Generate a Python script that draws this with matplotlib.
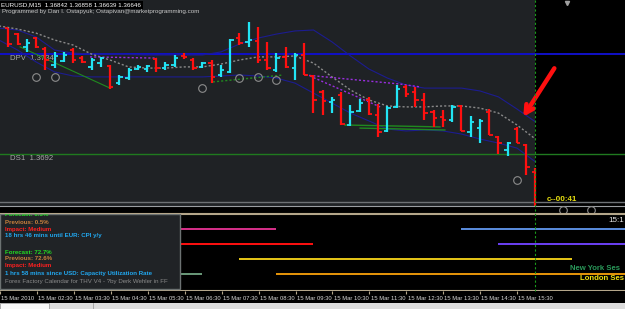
import matplotlib
matplotlib.use('Agg')
import matplotlib.pyplot as plt
import matplotlib.transforms as mtransforms
from matplotlib.patches import Rectangle
from matplotlib.lines import Line2D
import numpy as np

plt.rcParams['font.family'] = ['Liberation Sans', 'DejaVu Sans']

# EURUSD M15, 15 Mar 2010 -- bar open times in hours
bar_time = np.arange(1.75, 16.01, 0.25)
opens = [1.37447, 1.37422, 1.37368, 1.37405, 1.37359, 1.37292, 1.37309, 1.37355, 1.37321, 1.37284,
         1.37300, 1.37288, 1.37216, 1.37237, 1.37275, 1.37275, 1.37317, 1.37279, 1.37292, 1.37330,
         1.37313, 1.37284, 1.37300, 1.37250, 1.37263, 1.37405, 1.37389, 1.37393, 1.37313, 1.37271,
         1.37326, 1.37279, 1.37334, 1.37246, 1.37179, 1.37137, 1.37166, 1.37040, 1.37099, 1.37145,
         1.37082, 1.37015, 1.37116, 1.37200, 1.37179, 1.37145, 1.37095, 1.37074, 1.37061, 1.37120,
         1.37011, 1.37027, 1.37095, 1.36990, 1.36935, 1.37023, 1.36956, 1.36842]
highs = [1.37447, 1.37426, 1.37401, 1.37410, 1.37368, 1.37347, 1.37347, 1.37363, 1.37330, 1.37321,
         1.37326, 1.37292, 1.37250, 1.37279, 1.37292, 1.37292, 1.37321, 1.37305, 1.37334, 1.37342,
         1.37321, 1.37305, 1.37313, 1.37292, 1.37401, 1.37426, 1.37473, 1.37452, 1.37389, 1.37342,
         1.37368, 1.37342, 1.37384, 1.37250, 1.37187, 1.37158, 1.37179, 1.37124, 1.37149, 1.37158,
         1.37128, 1.37120, 1.37208, 1.37208, 1.37200, 1.37174, 1.37103, 1.37103, 1.37124, 1.37124,
         1.37078, 1.37065, 1.37107, 1.36994, 1.36969, 1.37032, 1.36960, 1.36858]
lows = [1.37368, 1.37376, 1.37347, 1.37363, 1.37271, 1.37279, 1.37305, 1.37300, 1.37300, 1.37271,
        1.37284, 1.37191, 1.37208, 1.37229, 1.37271, 1.37263, 1.37263, 1.37271, 1.37284, 1.37317,
        1.37271, 1.37279, 1.37216, 1.37242, 1.37258, 1.37376, 1.37368, 1.37300, 1.37271, 1.37263,
        1.37279, 1.37229, 1.37250, 1.37090, 1.37082, 1.37090, 1.37040, 1.37036, 1.37095, 1.37082,
        1.36990, 1.37011, 1.37111, 1.37158, 1.37116, 1.37061, 1.37032, 1.37032, 1.37053, 1.37015,
        1.36990, 1.36964, 1.36998, 1.36918, 1.36910, 1.36964, 1.36830, 1.36639]
closes = [1.37380, 1.37380, 1.37384, 1.37368, 1.37313, 1.37330, 1.37334, 1.37313, 1.37305, 1.37313,
          1.37321, 1.37200, 1.37242, 1.37271, 1.37284, 1.37288, 1.37279, 1.37292, 1.37321, 1.37326,
          1.37279, 1.37300, 1.37242, 1.37271, 1.37397, 1.37384, 1.37397, 1.37313, 1.37279, 1.37321,
          1.37284, 1.37334, 1.37250, 1.37145, 1.37141, 1.37145, 1.37044, 1.37095, 1.37132, 1.37086,
          1.37011, 1.37111, 1.37191, 1.37170, 1.37145, 1.37090, 1.37069, 1.37061, 1.37116, 1.37015,
          1.37053, 1.37057, 1.36998, 1.36964, 1.36964, 1.36964, 1.36864, 1.36646]

# envelope / moving averages sampled every half hour
ma_time = np.arange(1.5, 16.01, 0.5)
ma_upper = [1.37447, 1.37439, 1.37410, 1.37355, 1.37342, 1.37338, 1.37338, 1.37336, 1.37334, 1.37334,
            1.37334, 1.37334, 1.37347, 1.37380, 1.37405, 1.37422, 1.37435, 1.37439, 1.37389, 1.37330,
            1.37275, 1.37237, 1.37208, 1.37195, 1.37195, 1.37195, 1.37183, 1.37158, 1.37107, 1.37053]
ma_lower = [1.37397, 1.37355, 1.37305, 1.37263, 1.37246, 1.37242, 1.37242, 1.37242, 1.37242, 1.37242,
            1.37242, 1.37242, 1.37246, 1.37250, 1.37246, 1.37237, 1.37216, 1.37174, 1.37132, 1.37090,
            1.37057, 1.37023, 1.37015, 1.37019, 1.37015, 1.37002, 1.36981, 1.36964, 1.36943, 1.36885]
ma_mid = [1.37456, 1.37443, 1.37426, 1.37397, 1.37376, 1.37338, 1.37313, 1.37284, 1.37279, 1.37279,
          1.37284, 1.37284, 1.37296, 1.37313, 1.37326, 1.37326, 1.37330, 1.37300, 1.37242, 1.37187,
          1.37145, 1.37120, 1.37116, 1.37116, 1.37120, 1.37120, 1.37111, 1.37090, 1.37040, 1.36981]

# trend lines (time, price pairs)
purple_a = ([3.96, 5.77], [1.37326, 1.37321])
purple_b = ([9.77, 12.34, 12.88], [1.37250, 1.37212, 1.37200])
purple_c = ([9.9, 11.8], [1.37246, 1.37116])
green_a = ([2.07, 4.5], [1.37368, 1.37195])
green_dot = ([7.28, 9.18], [1.37221, 1.37250])
green_b = ([10.85, 13.42], [1.37040, 1.37032])
green_c = ([11.26, 13.55], [1.37027, 1.37019])

# session markers
mark_time = [2.5, 3.0, 7.0, 8.0, 8.5, 9.0, 15.5, 16.75, 17.5]
mark_price = [1.37242, 1.37242, 1.37195, 1.37237, 1.37242, 1.37229, 1.36809, 1.36683, 1.36683]

dpv, ds1, ds2 = 1.3734, 1.3692, 1.36718
now_time = 16.0

# session bars in lower window
sess_row = [1, 2, 4, 3, 4, 1, 2]
sess_start = [0.0, 0.0, 0.0, 8.0, 9.0, 14.0, 15.0]
sess_end = [9.0, 10.0, 7.0, 17.0, 24.0, 24.0, 24.0]
sess_color = ['#d8308a', '#ff1010', '#6a9a7a', '#e8c818', '#e8960a', '#5b8de0', '#6b40f5']

tick_hours = [1.5, 2.5, 3.5, 4.5, 5.5, 6.5, 7.5, 8.5, 9.5, 10.5, 11.5, 12.5, 13.5, 14.5, 15.5]
tick_labels = ['15 Mar 2010', '15 Mar 02:30', '15 Mar 03:30', '15 Mar 04:30', '15 Mar 05:30',
               '15 Mar 06:30', '15 Mar 07:30', '15 Mar 08:30', '15 Mar 09:30', '15 Mar 10:30',
               '15 Mar 11:30', '15 Mar 12:30', '15 Mar 13:30', '15 Mar 14:30', '15 Mar 15:30']

info_lines = [('Forecast: 0.3%', '#22dd22'), ('Previous: 0.5%', '#c8803c'),
              ('Impact: Medium', '#ff2020'), ('18 hrs 46 mins until EUR: CPI y/y', '#20a8f0'),
              ('Forecast: 72.7%', '#22dd22'), ('Previous: 72.6%', '#c8803c'),
              ('Impact: Medium', '#ff2020'),
              ('1 hrs 58 mins since USD: Capacity Utilization Rate', '#20a8f0')]
info_y = [215, 222, 229, 236, 252, 259, 266, 273]

W, H = 625, 309
XLIM = (1.527, 18.419)
BG = '#1f2225'
TAN = '#b4a68a'


def fy(px):
    return 1 - px / H


fig = plt.figure(figsize=(W / 100, H / 100), dpi=100, facecolor='black')

# ---- price window
ax = fig.add_axes([0, fy(206), 1, 206 / H])
ax.set_facecolor('black')
ax.set_xlim(*XLIM)
ax.set_ylim(1.366998, 1.37565)
ax.axvspan(XLIM[0], now_time, color=BG, zorder=0, lw=0)
for s in ['top', 'left', 'right']:
    ax.spines[s].set_visible(False)
ax.spines['bottom'].set_color('#9a9ea2')
ax.set_xticks([])
ax.set_yticks([])

ax.axhline(dpv, color='#1010c8', lw=1.4, zorder=2)
ax.axhline(ds1, color='#1f7a1f', lw=1.0, zorder=2)
ax.axhline(ds2, color='#6e7276', lw=1.0, zorder=2)
blend = mtransforms.blended_transform_factory(ax.transAxes, ax.transData)
ax.text(0.016, dpv - 0.00008, 'DPV  1.3734', transform=blend, color='#a8a8a8',
        fontsize=5.6, va='top')
ax.text(0.016, ds1 - 0.00008, 'DS1  1.3692', transform=blend, color='#a8a8a8',
        fontsize=5.6, va='top')

ax.plot(ma_time, ma_upper, color='#1c1c90', lw=0.8, zorder=3)
ax.plot(ma_time, ma_lower, color='#1c1c90', lw=0.8, zorder=3)
ax.plot(ma_time, ma_mid, color='#8a8a8a', lw=1.0, ls=(0, (1.5, 1.5)), zorder=3)
for xs, ys in [purple_a, purple_b, purple_c]:
    ax.plot(xs, ys, color='#9a2ee0', lw=1.0, ls=(0, (1.5, 1.5)), zorder=3)
ax.plot(*green_a, color='#1f8a1f', lw=0.8, zorder=3)
ax.plot(*green_dot, color='#1f8a1f', lw=1.0, ls=(0, (1.5, 1.5)), zorder=3)
ax.plot(*green_b, color='#1f8a1f', lw=1.0, zorder=3)
ax.plot(*green_c, color='#1f8a1f', lw=1.0, zorder=3)

# OHLC bars
o = np.array(opens)
c = np.array(closes)
cols = np.where(c < o, '#ff1010', '#22e4f4')
tw = 0.09
ax.vlines(bar_time, lows, highs, colors=cols, lw=1.6, zorder=4)
ax.hlines(o, bar_time - tw, bar_time, colors=cols, lw=1.3, zorder=4)
ax.hlines(c, bar_time, bar_time + tw, colors=cols, lw=1.3, zorder=4)

ax.plot(mark_time, mark_price, 'o', ms=5.5, mfc='none', mec='#8c8c8c', mew=0.8,
        zorder=5, clip_on=False)
ax.plot([16.84], [1.37552], 'v', ms=3, color='#a0a0a0', zorder=5)

ax.annotate('', xy=(15.63, 1.37065), xytext=(16.55, 1.37288),
            arrowprops=dict(arrowstyle='->, head_length=0.55, head_width=0.3',
                            color='#ff1010', lw=3.2, capstyle='round'), zorder=6)
ax.text(16.3, 1.36726, 'c--00:41', color='#e8e010', fontsize=5.8,
        fontweight='bold', va='center', ha='left', zorder=6)

fig.text(1 / W, fy(4.8), 'EURUSD,M15  1.36842 1.36858 1.36639 1.36646', color='white',
         fontsize=4.5, va='center', ha='left',
         bbox=dict(facecolor='black', edgecolor='none', pad=1.2))
fig.text(2 / W, fy(11), 'Programmed by Dan I. Ostapyuk; Ostapivan@marketprogramming.com',
         color='#c8c8c8', fontsize=4.5, va='center', ha='left')

# ---- lower window (sessions)
axl = fig.add_axes([0, fy(291), 1, 77 / H])
axl.set_facecolor('black')
axl.set_xlim(*XLIM)
axl.set_ylim(77 / 15, 0)
axl.set_xticks([])
axl.set_yticks([])
for s in ['left', 'right']:
    axl.spines[s].set_visible(False)
for s in ['top', 'bottom']:
    axl.spines[s].set_color(TAN)
    axl.spines[s].set_linewidth(1.5)
axl.hlines(sess_row, sess_start, sess_end, colors=sess_color, lw=1.4, zorder=2)

axl.add_patch(Rectangle((0, 2 / 77), 180 / W, 75 / 77, transform=axl.transAxes,
                        facecolor='#202326', edgecolor='#6c7272', lw=1.0, zorder=5))
for (txt, col), py in zip(info_lines, info_y):
    axl.text(5 / W, (291 - py) / 77, txt, color=col, fontsize=4.4, fontweight='bold',
             transform=axl.transAxes, va='center', ha='left', zorder=6, clip_on=True)
axl.text(5 / W, (291 - 282) / 77, 'Forex Factory Calendar for THV V4 - ?by Derk Wehler in FF',
         color='#8a8a8a', fontsize=4.4, transform=axl.transAxes, va='center', ha='left',
         zorder=6)
# session names run off the right edge in the original; show the visible part
axl.text(570 / W, (291 - 268) / 77, 'New York Ses', color='#2a9a5a', fontsize=5.6,
         fontweight='bold', transform=axl.transAxes, va='center', ha='left', zorder=6)
axl.text(580 / W, (291 - 279) / 77, 'London Ses', color='#f0e010', fontsize=5.6,
         fontweight='bold', transform=axl.transAxes, va='center', ha='left', zorder=6)
axl.text(608 / W, (291 - 221) / 77, '15:1', color='#e8e8e8', fontsize=5.8,
         transform=axl.transAxes, va='center', ha='left', zorder=6)

# current-time dotted line across both windows
vt = mtransforms.blended_transform_factory(ax.transData, fig.transFigure)
fig.add_artist(Line2D([now_time, now_time], [fy(0), fy(291)], transform=vt,
                      color='#1a9a1a', lw=0.8, ls=(0, (2, 2)), zorder=3))

# ---- time axis
axt = fig.add_axes([0, fy(303), 1, 12 / H])
axt.set_facecolor('black')
axt.set_xlim(*XLIM)
axt.set_ylim(0, 1)
for s in axt.spines.values():
    s.set_visible(False)
axt.set_yticks([])
axt.set_xticks(tick_hours)
axt.tick_params(axis='x', direction='in', top=True, bottom=False, labelbottom=False,
                length=2.5, color=TAN, width=0.8)
tb = mtransforms.blended_transform_factory(axt.transData, axt.transAxes)
for h, lab in zip(tick_hours, tick_labels):
    axt.text(h + 1.2 / 37, 0.36, lab, transform=tb, color='#d8d8d8', fontsize=4.2,
             va='center', ha='left')

# bottom tab strip
fig.add_artist(Rectangle((0, 0), 1, 6 / H, transform=fig.transFigure,
                         facecolor='#dcdcdc', edgecolor='none'))
fig.add_artist(Rectangle((0, 0), 49 / W, 6 / H, transform=fig.transFigure,
                         facecolor='#f8f8f8', edgecolor='#a0a0a0', lw=0.6))
fig.add_artist(Line2D([93 / W, 93 / W], [0, 6 / H], transform=fig.transFigure,
                      color='#a0a0a0', lw=0.6))

fig.savefig('out.png', dpi=100, facecolor='black')
